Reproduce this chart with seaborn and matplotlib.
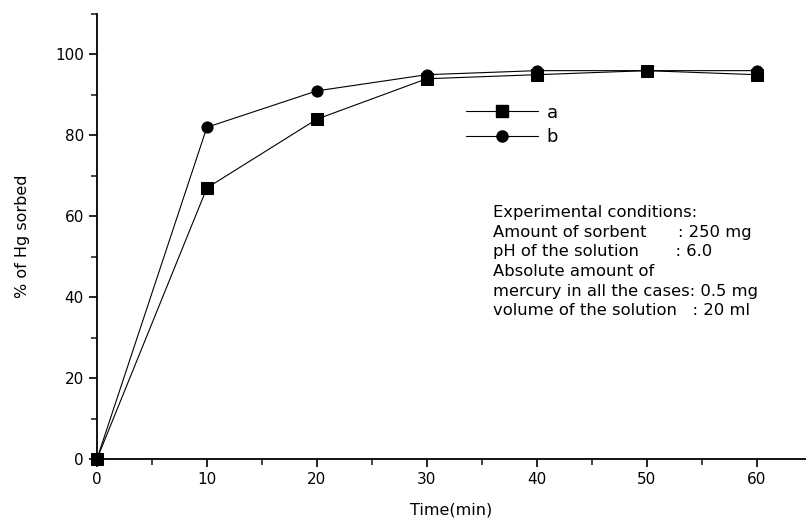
import matplotlib
matplotlib.use("Agg")
import matplotlib.pyplot as plt
import seaborn as sns
import pandas as pd
from matplotlib.ticker import MultipleLocator
from matplotlib.lines import Line2D

time_min = [0, 10, 20, 30, 40, 50, 60]
series_a = [0, 67, 84, 94, 95, 96, 95]
series_b = [0, 82, 91, 95, 96, 96, 96]

sns.set_style("ticks")
plt.rcParams['font.family'] = ['DejaVu Sans']
plt.rcParams['text.color'] = 'black'
plt.rcParams['axes.labelcolor'] = 'black'

df = pd.DataFrame({
    "Time": time_min * 2,
    "Value": series_a + series_b,
    "Series": ["a"] * len(time_min) + ["b"] * len(time_min),
})

fig = plt.figure(figsize=(8.06, 5.19), dpi=100)
ax = fig.add_axes([0.1203, 0.1156, 0.8797, 0.8574])

sns.lineplot(data=df, x="Time", y="Value", hue="Series", style="Series",
             markers={"a": "s", "b": "o"}, dashes=False,
             palette={"a": "black", "b": "black"}, linewidth=0.8,
             markersize=8, markeredgecolor="black", ax=ax, clip_on=False,
             legend=False)

ax.set_xlim(0, 64.5)
ax.set_ylim(0, 110)
ax.xaxis.set_major_locator(MultipleLocator(10))
ax.xaxis.set_minor_locator(MultipleLocator(5))
ax.yaxis.set_major_locator(MultipleLocator(20))
ax.yaxis.set_minor_locator(MultipleLocator(10))
ax.tick_params(axis="both", which="major", direction="out", length=6, width=1.2,
               labelsize=11, colors="black")
ax.tick_params(axis="both", which="minor", direction="out", length=4, width=1.2)
for s in ["top", "right"]:
    ax.spines[s].set_visible(False)
for s in ["left", "bottom"]:
    ax.spines[s].set_linewidth(1.3)
    ax.spines[s].set_color("black")

ax.set_xlabel("Time(min)", fontsize=11.5, labelpad=11)
ax.set_ylabel("% of Hg sorbed", fontsize=11.5, labelpad=18)

handles = [Line2D([], [], color="black", lw=0.8, marker="s", markersize=8),
           Line2D([], [], color="black", lw=0.8, marker="o", markersize=8)]
ax.legend(handles, ["a", "b"], frameon=False, fontsize=13, handlelength=4.0,
          loc="upper left", bbox_to_anchor=(0.497, 0.835), labelspacing=0.35,
          handletextpad=0.5)

cond = ("Experimental conditions:\n"
        "Amount of sorbent      : 250 mg\n"
        "pH of the solution       : 6.0\n"
        "Absolute amount of\n"
        "mercury in all the cases: 0.5 mg\n"
        "volume of the solution   : 20 ml")
ax.text(0.558, 0.57, cond, transform=ax.transAxes, fontsize=11.8,
        va="top", ha="left", linespacing=1.38)

fig.savefig("out.png", dpi=100)
